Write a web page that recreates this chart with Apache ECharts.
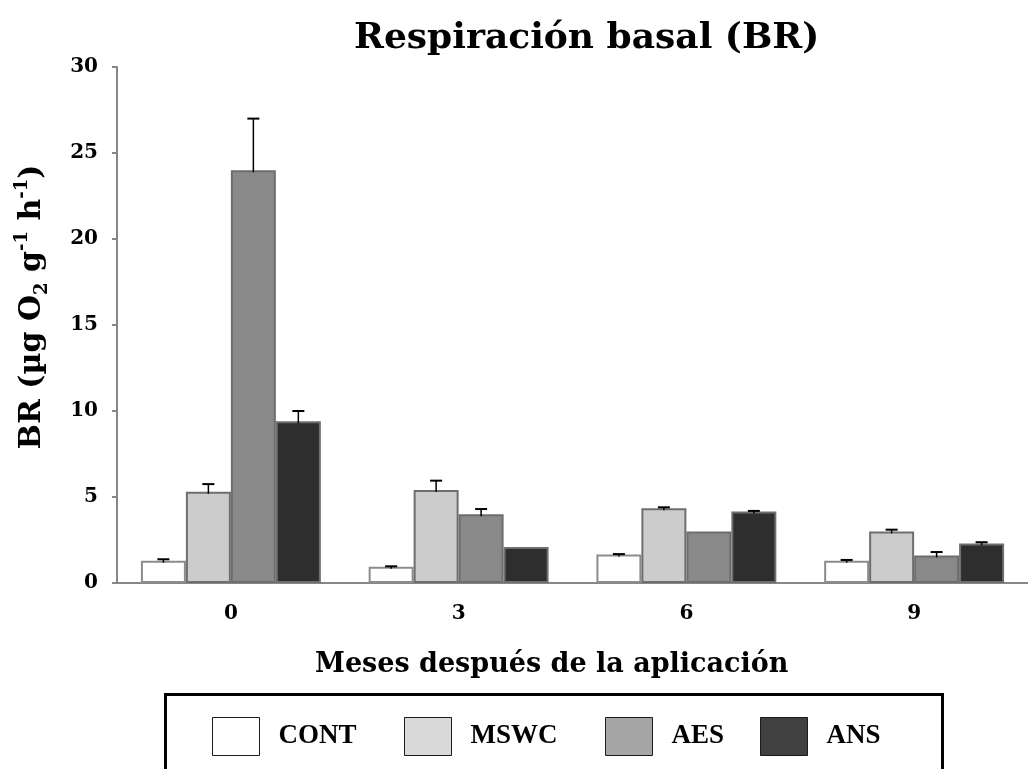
<!DOCTYPE html>
<html>
<head>
<meta charset="utf-8">
<script src="https://cdn.jsdelivr.net/npm/echarts@6/dist/echarts.min.js"></script>
<style>
  html, body { margin: 0; padding: 0; background: #fff; }
  #chart { width: 1028px; height: 769px; }
</style>
</head>
<body>
<div id="chart"></div>
<script>
// Months after application
const months = ['0', '3', '6', '9'];
const treatments = ['CONT', 'MSWC', 'AES', 'ANS'];

// Basal respiration means (µg O2 g-1 h-1)
const cont = [1.3, 0.95, 1.65, 1.3];
const mswc = [5.3, 5.4, 4.35, 3.0];
const aes  = [24.0, 4.0, 3.0, 1.6];
const ans  = [9.4, 2.1, 4.15, 2.3];

// Standard errors (upper whisker only)
const contErr = [0.08, 0.02, 0.03, 0.04];
const mswcErr = [0.45, 0.55, 0.05, 0.1];
const aesErr  = [3.0, 0.3, 0.0, 0.2];
const ansErr  = [0.6, 0.0, 0.04, 0.07];

const yTicks = [0, 5, 10, 15, 20, 25, 30];

const barFill    = ['#ffffff', '#cccccc', '#898989', '#2e2e2e'];
const legendFill = ['#ffffff', '#d9d9d9', '#a6a6a6', '#404040'];
const serif = 'DejaVu Serif';
const GAP = 0.21;

const means = [cont, mswc, aes, ans];
const errs = [contErr, mswcErr, aesErr, ansErr];

const errData = [];
means.forEach((arr, k) => {
  arr.forEach((v, i) => {
    if (errs[k][i] > 0) errData.push([i, k, v, errs[k][i]]);
  });
});

const chart = echarts.init(document.getElementById('chart'), null, { renderer: 'canvas' });

const barSeries = treatments.map((name, k) => ({
  name: name,
  type: 'bar',
  data: means[k],
  barGap: '0%',
  barCategoryGap: (GAP * 100) + '%',
  itemStyle: {
    color: barFill[k],
    borderColor: k === 0 ? '#8c8c8c' : '#6e6e6e',
    borderWidth: 2
  },
  emphasis: { disabled: true },
  z: 2
}));

const legendX = [207, 399, 600, 755];
const legends = treatments.map((name, k) => ({
  data: [{ name: name, itemStyle: { color: legendFill[k], borderColor: '#1a1a1a', borderWidth: 1 } }],
  left: legendX[k],
  top: 712,
  icon: 'rect',
  itemWidth: 47,
  itemHeight: 38,
  selectedMode: false,
  textStyle: {
    fontFamily: 'Liberation Serif',
    fontWeight: 'bold',
    fontSize: 27,
    color: '#000',
    padding: [0, 0, 0, 14]
  }
}));

chart.setOption({
  animation: false,
  backgroundColor: '#ffffff',
  legend: legends,
  grid: { left: 117, top: 67, width: 921, height: 516, containLabel: false },
  xAxis: {
    type: 'category',
    data: months,
    axisLine: { lineStyle: { color: '#878787', width: 2 } },
    axisTick: { show: false },
    axisLabel: { fontFamily: serif, fontWeight: 'bold', fontSize: 20, color: '#000', margin: 21 }
  },
  yAxis: {
    type: 'value',
    min: yTicks[0],
    max: yTicks[yTicks.length - 1],
    interval: 5,
    splitLine: { show: false },
    axisLine: { show: true, lineStyle: { color: '#878787', width: 2 } },
    axisTick: { show: true, length: 5, lineStyle: { color: '#878787', width: 2 } },
    axisLabel: { fontFamily: serif, fontWeight: 'bold', fontSize: 20, color: '#000', margin: 19 },
    name: '{m|BR (µg O}{sub|2}{m| g}{sup|-1}{m| h}{sup|-1}{m|)}',
    nameLocation: 'middle',
    nameRotate: 90,
    nameGap: 66,
    nameTextStyle: {
      padding: [0, 0, 0, 36],
      rich: {
        m: { fontFamily: serif, fontWeight: 'bold', fontSize: 30, color: '#000', lineHeight: 38, verticalAlign: 'middle' },
        sub: { fontFamily: serif, fontWeight: 'bold', fontSize: 18, color: '#000', lineHeight: 38, verticalAlign: 'bottom' },
        sup: { fontFamily: serif, fontWeight: 'bold', fontSize: 18, color: '#000', lineHeight: 38, verticalAlign: 'top' }
      }
    }
  },
  graphic: [
    {
      type: 'text', left: 354, top: 21,
      style: { text: 'Respiración basal (BR)', font: 'bold 36px "DejaVu Serif"', fill: '#000' }
    },
    {
      type: 'text', left: 315, top: 651,
      style: { text: 'Meses después de la aplicación', font: 'bold 27px "DejaVu Serif"', fill: '#000' }
    },
    {
      type: 'rect', left: 163, top: 692, silent: true,
      shape: { width: 777, height: 110 },
      style: { fill: 'none', stroke: '#000', lineWidth: 3 }
    }
  ],
  series: barSeries.concat([{
    type: 'custom',
    name: 'err',
    data: errData,
    z: 5,
    silent: true,
    renderItem: function (params, api) {
      const cat = api.value(0), k = api.value(1), v = api.value(2), e = api.value(3);
      const band = api.size([1, 0])[0];
      const bw = band * (1 - GAP) / 4;
      const cx = api.coord([cat, 0])[0] + (k - 1.5) * bw;
      const yTop = api.coord([cat, v + e])[1];
      const yBar = api.coord([cat, v])[1];
      const cap = 6;
      return {
        type: 'group',
        children: [
          { type: 'line', shape: { x1: cx, y1: yBar + 2, x2: cx, y2: yTop }, style: { stroke: '#000', lineWidth: 1.5 } },
          { type: 'line', shape: { x1: cx - cap, y1: yTop, x2: cx + cap, y2: yTop }, style: { stroke: '#000', lineWidth: 2 } }
        ]
      };
    }
  }])
});
</script>
</body>
</html>
